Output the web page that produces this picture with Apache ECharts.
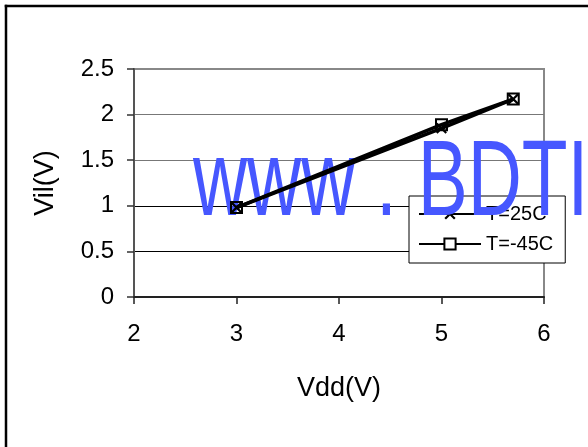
<!DOCTYPE html>
<html>
<head>
<meta charset="utf-8">
<script src="https://cdn.jsdelivr.net/npm/echarts@6/dist/echarts.min.js"></script>
<style>
html,body{margin:0;padding:0;background:#fff;overflow:hidden;}
#wrap{width:588px;height:447px;overflow:hidden;}
#chart{width:610px;height:447px;}
</style>
</head>
<body>
<div id="wrap"><div id="chart"></div></div>
<script>
// Data
const vdd = [3, 5, 5.7];
const vilT25 = [0.98, 1.85, 2.17];
const vilTm45 = [0.98, 1.89, 2.17];
const seriesNames = ['T=25C', 'T=-45C'];
const xTicks = { min: 2, max: 6, interval: 1 };
const yTicks = { min: 0, max: 2.5, interval: 0.5 };
const xAxisTitle = 'Vdd(V)';
const yAxisTitle = 'Vil(V)';
const watermark = 'www . BDTIC . com';

const FONT = '"Liberation Sans", Arial, sans-serif';
const pairs = (xs, ys) => xs.map((x, i) => [x, ys[i]]);
const crossPath = 'path://M0,1.4L1.4,0L5,3.6L8.6,0L10,1.4L6.4,5L10,8.6L8.6,10L5,6.4L1.4,10L0,8.6L3.6,5Z';

const chart = echarts.init(document.getElementById('chart'), null, { renderer: 'canvas' });
chart.setOption({
  animation: false,
  backgroundColor: '#fff',
  grid: {
    left: 134, right: 66, top: 69, bottom: 150,
    show: true, borderColor: '#888', borderWidth: 2, backgroundColor: 'transparent',
    containLabel: false, outerBoundsMode: 'none'
  },
  graphic: [
    { type: 'line', z: 100, silent: true,
      shape: { x1: 6, y1: 4.75, x2: 6, y2: 447 },
      style: { stroke: '#000', lineWidth: 2.5 } },
    { type: 'line', z: 100, silent: true,
      shape: { x1: 4.75, y1: 6, x2: 610, y2: 6 },
      style: { stroke: '#000', lineWidth: 2.5 } },
    { type: 'text', z: 50, silent: true, x: 193, y: 185, scaleX: 0.70, scaleY: 1,
      style: { text: watermark, x: 0, y: 0, fill: '#4657ff',
        font: '107px ' + FONT, align: 'left', verticalAlign: 'middle' } }
  ],
  legend: {
    orient: 'vertical', left: 409, top: 196, z: 1,
    backgroundColor: '#fff', borderColor: '#000', borderWidth: 1, borderRadius: 0,
    padding: [8, 12, 9, 9], itemGap: 10, itemWidth: 62, itemHeight: 14,
    textStyle: { fontSize: 20, color: '#000', fontFamily: FONT },
    data: [
      { name: seriesNames[0] },
      { name: seriesNames[1], itemStyle: { color: '#fff' } }
    ]
  },
  xAxis: {
    type: 'value', min: xTicks.min, max: xTicks.max, interval: xTicks.interval,
    name: xAxisTitle, nameLocation: 'middle', nameGap: 78,
    nameTextStyle: { fontSize: 27, color: '#000', fontFamily: FONT },
    axisLine: { show: true, onZero: false, lineStyle: { color: '#222', width: 2 } },
    axisTick: { show: true, length: 7, lineStyle: { color: '#222', width: 1.5 } },
    axisLabel: { fontSize: 24, color: '#000', fontFamily: FONT, margin: 25 },
    splitLine: { show: false }
  },
  yAxis: {
    type: 'value', min: yTicks.min, max: yTicks.max, interval: yTicks.interval,
    name: yAxisTitle, nameLocation: 'middle', nameGap: 75, nameRotate: 90,
    nameTextStyle: { fontSize: 27, color: '#000', fontFamily: FONT },
    axisLine: { show: true, lineStyle: { color: '#555', width: 2 } },
    axisTick: { show: true, length: 7, lineStyle: { color: '#333', width: 1.5 } },
    axisLabel: { fontSize: 24, color: '#000', fontFamily: FONT, margin: 20 },
    splitLine: { show: true, lineStyle: { color: ['#000', '#000', '#000', '#777', '#777', '#888'], width: 1 } }
  },
  series: [
    { name: seriesNames[0], type: 'line', z: 60, data: pairs(vdd, vilT25),
      symbol: crossPath, symbolSize: 11, showSymbol: true,
      itemStyle: { color: '#000' }, lineStyle: { color: '#000', width: 3.5 } },
    { name: seriesNames[1], type: 'line', z: 61, data: pairs(vdd, vilTm45),
      symbol: 'rect', symbolSize: 11, showSymbol: true,
      itemStyle: { color: 'rgba(255,255,255,0)', borderColor: '#000', borderWidth: 2 },
      lineStyle: { color: '#000', width: 3.5 } }
  ]
});
</script>
</body>
</html>
